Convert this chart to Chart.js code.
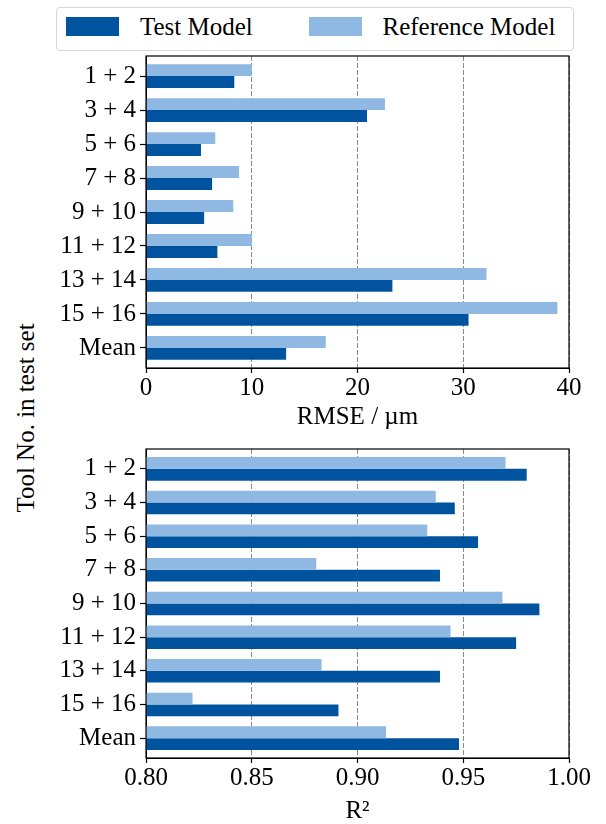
<!DOCTYPE html>
<html>
<head>
<meta charset="utf-8">
<script src="https://cdn.jsdelivr.net/npm/chart.js"></script>
<style>
  body { margin: 0; background: #fff; width: 606px; height: 824px; position: relative; overflow: hidden;
         font-family: 'Liberation Serif', 'Times New Roman', serif; color: #000; }
  canvas { position: absolute; left: 0; }
  #legenda { position: absolute; left: 55.5px; top: 6.5px; width: 518px; height: 44px; box-sizing: border-box;
             border: 1px solid #d6d6d6; border-radius: 4px; background: #fff; z-index: 2; }
  .caixa { position: absolute; top: 9.8px; width: 53px; height: 18.5px; }
  .texto { position: absolute; top: 6.5px; font-size: 25px; line-height: 25px; white-space: nowrap; }
  #titulo_y { position: absolute; left: 25px; top: 418px; font-size: 25px; line-height: 25px; white-space: nowrap;
              transform: translate(-50%, -50%) rotate(-90deg); }
</style>
</head>
<body>
<div id="legenda">
  <div class="caixa" style="left: 9.5px; background: #00549f;"></div>
  <div class="texto" style="left: 83.5px;">Test Model</div>
  <div class="caixa" style="left: 252.5px; background: #8fb9e3;"></div>
  <div class="texto" style="left: 326px;">Reference Model</div>
</div>
<div id="titulo_y">Tool No. in test set</div>
<canvas id="barra_rmse" width="606" height="430" style="top: 0;"></canvas>
<canvas id="barra_r2" width="606" height="394" style="top: 430px;"></canvas>
<script>
/* dados */
const categorias = ['1 + 2', '3 + 4', '5 + 6', '7 + 8', '9 + 10', '11 + 12', '13 + 14', '15 + 16', 'Mean'];

const rmse_teste = [8.35, 20.9, 5.2, 6.25, 5.5, 6.75, 23.3, 30.5, 13.25];
const rmse_referencia = [10.0, 22.6, 6.55, 8.8, 8.25, 10.0, 32.2, 38.9, 17.0];

const r2_teste = [0.980, 0.946, 0.957, 0.939, 0.986, 0.975, 0.939, 0.891, 0.948];
const r2_referencia = [0.970, 0.937, 0.933, 0.8805, 0.9685, 0.944, 0.883, 0.822, 0.9135];

const ticks_rmse = [0, 10, 20, 30, 40];
const ticks_r2 = [0.80, 0.85, 0.90, 0.95, 1.00];

const cor_teste = '#00549f';
const cor_referencia = '#8fb9e3';

const fonte = 'Liberation Serif, serif';

/* moldura preta em volta da área do gráfico */
const moldura = {
  id: 'moldura',
  afterDraw(chart) {
    const {ctx, chartArea: a} = chart;
    ctx.save();
    ctx.strokeStyle = '#000';
    ctx.lineWidth = 1.2;
    ctx.strokeRect(a.left, a.top, a.right - a.left, a.bottom - a.top);
    ctx.restore();
  }
};

/* margem extra nas categorias, como no matplotlib */
function ajustar_categorias(scale) {
  scale._startValue = -0.59;
  scale._valueRange = categorias.length - 1 + 1.18;
}

function montar_config(ref, teste, min, max, ticks_x, formato, titulo, topo, altura_x) {
  return {
    type: 'bar',
    data: {
      labels: categorias,
      datasets: [
        { label: 'Reference Model', data: ref, backgroundColor: cor_referencia, categoryPercentage: 0.7, barPercentage: 1.0, clip: 0 },
        { label: 'Test Model', data: teste, backgroundColor: cor_teste, categoryPercentage: 0.7, barPercentage: 1.0, clip: 0 }
      ]
    },
    options: {
      indexAxis: 'y',
      responsive: false,
      animation: false,
      font: { family: fonte, size: 25 },
      layout: { padding: { top: topo, right: 37, left: 0, bottom: 0 } },
      plugins: { legend: { display: false }, tooltip: { enabled: false } },
      scales: {
        x: {
          min: min,
          max: max,
          afterBuildTicks: (s) => { s.ticks = ticks_x.map(v => ({ value: v })); },
          afterFit: (s) => { s.height = altura_x; },
          grid: { color: '#8a8a8a', lineWidth: 1, tickColor: '#000', tickLength: 5, tickWidth: 1.2 },
          border: { color: '#000', dash: [5, 2] },
          ticks: { padding: 0, autoSkip: false, maxRotation: 0, callback: formato, font: { family: fonte, size: 25 } },
          title: { display: true, text: titulo, padding: 0, font: { family: fonte, size: 25, lineHeight: 1 } }
        },
        y: {
          afterBuildTicks: ajustar_categorias,
          afterFit: (s) => { s.width = 146; },
          grid: { offset: false, drawOnChartArea: false, drawTicks: true, tickLength: 6, tickColor: '#000', tickWidth: 1.2 },
          border: { color: '#000' },
          ticks: { padding: 4, autoSkip: false, font: { family: fonte, size: 25 } }
        }
      }
    },
    plugins: [moldura]
  };
}

function desenhar() {
  Chart.defaults.font.family = fonte;
  Chart.defaults.font.size = 25;
  Chart.defaults.color = '#000';

  const grafico_rmse = new Chart(
    document.getElementById('barra_rmse'),
    montar_config(rmse_referencia, rmse_teste, 0, 40, ticks_rmse, (v) => String(v), 'RMSE / µm', 56, 62)
  );

  const grafico_r2 = new Chart(
    document.getElementById('barra_r2'),
    montar_config(r2_referencia, r2_teste, 0.8, 1.0, ticks_r2, (v) => v.toFixed(2), 'R²', 16, 66)
  );
}

document.fonts.load('25px Liberation Serif').then(desenhar, desenhar);
</script>
</body>
</html>
